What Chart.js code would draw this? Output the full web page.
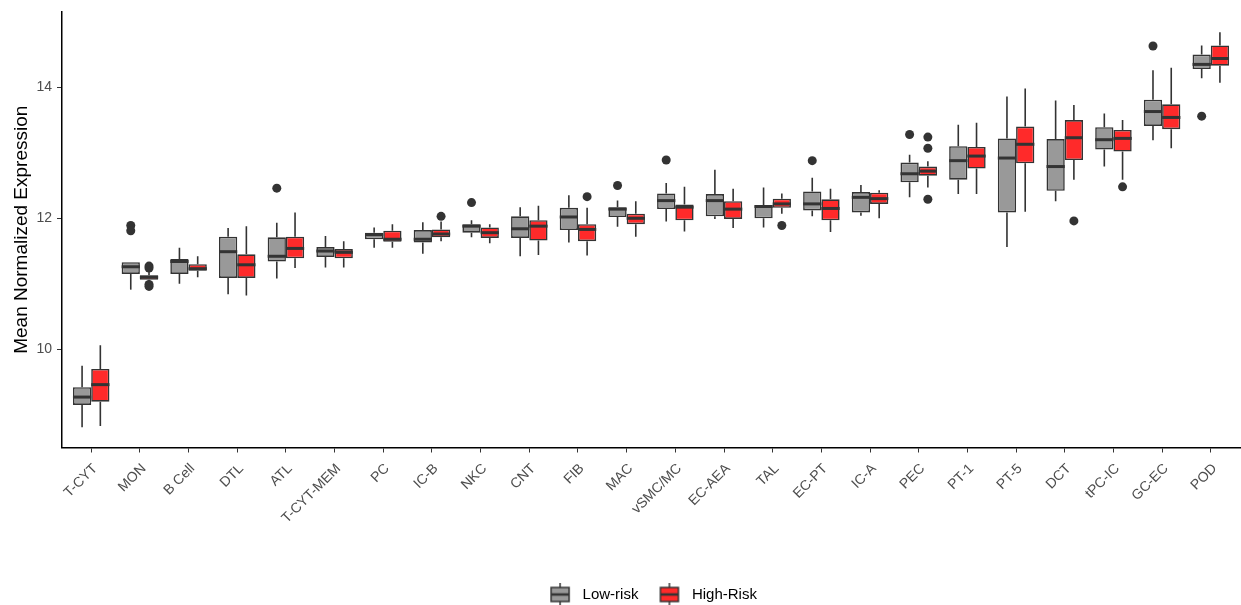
<!DOCTYPE html>
<html>
<head>
<meta charset="utf-8">
<script src="https://cdn.jsdelivr.net/npm/chart.js@4.4.1/dist/chart.umd.min.js"></script>
<style>
  html, body { margin: 0; padding: 0; background: #fff; }
</style>
</head>
<body>
<canvas id="chart" width="1241" height="605"></canvas>
<script>
// ***** Data *****
const categories = ['T-CYT', 'MON', 'B Cell', 'DTL', 'ATL', 'T-CYT-MEM', 'PC', 'IC-B', 'NKC', 'CNT', 'FIB', 'MAC',
  'vSMC/MC', 'EC-AEA', 'TAL', 'EC-PT', 'IC-A', 'PEC', 'PT-1', 'PT-5', 'DCT', 'tPC-IC', 'GC-EC', 'POD'];
const yTicks = [10, 12, 14];

// Low-risk boxes
const lowMin = [8.81, 10.91, 11.00, 10.84, 11.08, 11.25, 11.55, 11.46, 11.71, 11.42, 11.63, 11.87,
  11.95, 11.99, 11.86, 12.03, 12.04, 12.32, 12.37, 11.56, 12.26, 12.79, 13.19, 14.14];
const lowQ1 = [9.15, 11.15, 11.15, 11.09, 11.34, 11.41, 11.68, 11.63, 11.78, 11.70, 11.82, 12.02,
  12.14, 12.03, 12.00, 12.12, 12.09, 12.55, 12.59, 12.09, 12.42, 13.05, 13.41, 14.28];
const lowMed = [9.27, 11.26, 11.34, 11.49, 11.42, 11.50, 11.75, 11.68, 11.88, 11.84, 12.02, 12.14,
  12.27, 12.27, 12.18, 12.22, 12.32, 12.68, 12.88, 12.92, 12.79, 13.20, 13.63, 14.35];
const lowQ3 = [9.42, 11.33, 11.38, 11.72, 11.71, 11.56, 11.78, 11.82, 11.91, 12.03, 12.16, 12.17,
  12.38, 12.37, 12.20, 12.41, 12.40, 12.85, 13.10, 13.22, 13.21, 13.39, 13.81, 14.50];
const lowMax = [9.75, 11.33, 11.55, 11.85, 11.93, 11.73, 11.86, 11.94, 11.97, 12.17, 12.35, 12.27,
  12.54, 12.74, 12.47, 12.62, 12.51, 12.97, 13.43, 13.86, 13.80, 13.60, 14.26, 14.64];
const lowOut = [[], [11.89, 11.81], [], [], [12.46], [], [], [], [12.24], [], [], [12.50],
  [12.89], [], [], [12.88], [], [13.28], [], [], [], [], [14.63], [13.56]];

// High-Risk boxes
const highMin = [8.83, 11.04, 11.10, 10.82, 11.24, 11.25, 11.55, 11.65, 11.62, 11.44, 11.43, 11.72,
  11.80, 11.85, 12.07, 11.79, 12.00, 12.47, 12.37, 12.10, 12.59, 12.59, 13.07, 14.07];
const highQ1 = [9.20, 11.06, 11.20, 11.09, 11.39, 11.39, 11.64, 11.71, 11.70, 11.66, 11.65, 11.91,
  11.97, 11.99, 12.16, 11.97, 12.22, 12.65, 12.76, 12.84, 12.89, 13.02, 13.36, 14.33];
const highMed = [9.46, 11.10, 11.23, 11.29, 11.54, 11.48, 11.68, 11.76, 11.78, 11.88, 11.83, 12.00,
  12.17, 12.14, 12.22, 12.15, 12.30, 12.72, 12.95, 13.13, 13.23, 13.22, 13.54, 14.44];
const highQ3 = [9.70, 11.13, 11.30, 11.45, 11.72, 11.53, 11.81, 11.83, 11.86, 11.97, 11.91, 12.07,
  12.21, 12.26, 12.30, 12.29, 12.39, 12.79, 13.09, 13.40, 13.50, 13.35, 13.74, 14.64];
const highMax = [10.06, 11.18, 11.42, 11.88, 12.09, 11.65, 11.91, 11.95, 11.91, 12.19, 12.16, 12.26,
  12.48, 12.45, 12.38, 12.45, 12.43, 12.87, 13.46, 13.98, 13.73, 13.50, 14.30, 14.84];
const highOut = [[], [11.27, 11.24, 10.99, 10.96], [], [], [], [], [], [12.03], [], [], [12.33], [],
  [], [], [11.89], [], [], [13.24, 13.07, 12.29], [], [], [11.96], [12.48], [], []];

// ***** Style *****
const fontFamily = '"Liberation Sans", Arial, Helvetica, sans-serif';
const lowColor = '#999999';
const highColor = '#FF2A2A';
const lineColor = '#333333';
const tickColor = '#4D4D4D';

Chart.defaults.font.family = fontFamily;

const series = [
  { min: lowMin, q1: lowQ1, med: lowMed, q3: lowQ3, max: lowMax, out: lowOut },
  { min: highMin, q1: highQ1, med: highMed, q3: highQ3, max: highMax, out: highOut }
];

// Legend key: small boxplot glyph
const makeKey = (fill) => {
  const c = document.createElement('canvas');
  c.width = 24;
  c.height = 24;
  const g = c.getContext('2d');
  g.strokeStyle = lineColor;
  g.lineWidth = 1.5;
  g.beginPath();
  g.moveTo(12, 0);
  g.lineTo(12, 24);
  g.stroke();
  g.fillStyle = fill;
  g.fillRect(3, 5, 18, 14);
  g.strokeRect(3, 5, 18, 14);
  g.lineWidth = 2.5;
  g.beginPath();
  g.moveTo(3, 12);
  g.lineTo(21, 12);
  g.stroke();
  return c;
};

// Whiskers, medians and outliers drawn from the bar elements + y scale
const boxParts = {
  id: 'boxParts',
  beforeDatasetsDraw(chart) {
    const { ctx } = chart;
    const y = chart.scales.y;
    series.forEach((s, d) => {
      chart.getDatasetMeta(d).data.forEach((bar, i) => {
        ctx.save();
        ctx.strokeStyle = lineColor;
        ctx.lineWidth = 1.6;
        ctx.beginPath();
        ctx.moveTo(bar.x, y.getPixelForValue(s.max[i]));
        ctx.lineTo(bar.x, y.getPixelForValue(s.q3[i]));
        ctx.moveTo(bar.x, y.getPixelForValue(s.q1[i]));
        ctx.lineTo(bar.x, y.getPixelForValue(s.min[i]));
        ctx.stroke();
        ctx.restore();
      });
    });
  },
  afterDatasetsDraw(chart) {
    const { ctx } = chart;
    const y = chart.scales.y;
    series.forEach((s, d) => {
      chart.getDatasetMeta(d).data.forEach((bar, i) => {
        const half = bar.width / 2;
        const my = y.getPixelForValue(s.med[i]);
        ctx.save();
        ctx.strokeStyle = lineColor;
        ctx.lineWidth = 3;
        ctx.beginPath();
        ctx.moveTo(bar.x - half, my);
        ctx.lineTo(bar.x + half, my);
        ctx.stroke();
        ctx.fillStyle = lineColor;
        s.out[i].forEach((v) => {
          ctx.beginPath();
          ctx.arc(bar.x, y.getPixelForValue(v), 4.5, 0, Math.PI * 2);
          ctx.fill();
        });
        ctx.restore();
      });
    });
  }
};

const toBars = (q1, q3) => categories.map((c, i) => ({ x: i, y: [q1[i], q3[i]] }));

const configChart = {
  type: 'bar',
  data: {
    datasets: [
      {
        label: 'Low-risk',
        data: toBars(lowQ1, lowQ3),
        backgroundColor: lowColor,
        borderColor: lineColor,
        borderWidth: 1.6,
        borderSkipped: false
      },
      {
        label: 'High-Risk',
        data: toBars(highQ1, highQ3),
        backgroundColor: highColor,
        borderColor: lineColor,
        borderWidth: 1.6,
        borderSkipped: false
      }
    ]
  },
  options: {
    responsive: false,
    animation: false,
    layout: { padding: { top: 12, right: 1, bottom: -7, left: 0 } },
    datasets: { bar: { categoryPercentage: 0.75, barPercentage: 1 } },
    scales: {
      x: {
        type: 'linear',
        min: -0.6,
        max: 23.6,
        offset: false,
        grid: { offset: false, drawOnChartArea: false, drawTicks: true, tickLength: 5, color: lineColor },
        border: { color: '#000', width: 1.5 },
        ticks: {
          autoSkip: false,
          minRotation: 45,
          maxRotation: 45,
          padding: 8,
          labelOffset: 4,
          color: tickColor,
          font: { size: 14 },
          callback: (v) => categories[v] ?? ''
        },
        afterBuildTicks: (s) => { s.ticks = categories.map((c, i) => ({ value: i })); },
        afterFit: (s) => { s.height = 123.5; s.paddingLeft = 0; s.paddingRight = 0; }
      },
      y: {
        min: 8.5,
        max: 15.15,
        grid: { drawOnChartArea: false, drawTicks: true, tickLength: 5, color: lineColor },
        border: { color: '#000', width: 1.5 },
        ticks: { padding: 5, color: tickColor, font: { size: 14 } },
        title: {
          display: true,
          text: 'Mean Normalized Expression',
          color: '#000',
          font: { size: 19 },
          padding: { top: 10, bottom: 0 }
        },
        afterBuildTicks: (s) => { s.ticks = yTicks.map((v) => ({ value: v })); },
        afterFit: (s) => { s.width = 62; s.paddingTop = 0; s.paddingBottom = 0; }
      }
    },
    plugins: {
      tooltip: { enabled: false },
      legend: {
        position: 'bottom',
        fullSize: false,
        onClick: null,
        labels: {
          usePointStyle: true,
          pointStyleWidth: 30,
          padding: 16,
          color: '#000',
          font: { size: 15 },
          generateLabels: () => [
            { text: 'Low-risk', pointStyle: makeKey(lowColor), datasetIndex: 0, lineWidth: 0 },
            { text: 'High-Risk', pointStyle: makeKey(highColor), datasetIndex: 1, lineWidth: 0 }
          ]
        }
      }
    }
  },
  plugins: [boxParts]
};

// Initialize chart
const boxChart = new Chart(document.getElementById('chart'), configChart);
</script>
</body>
</html>
